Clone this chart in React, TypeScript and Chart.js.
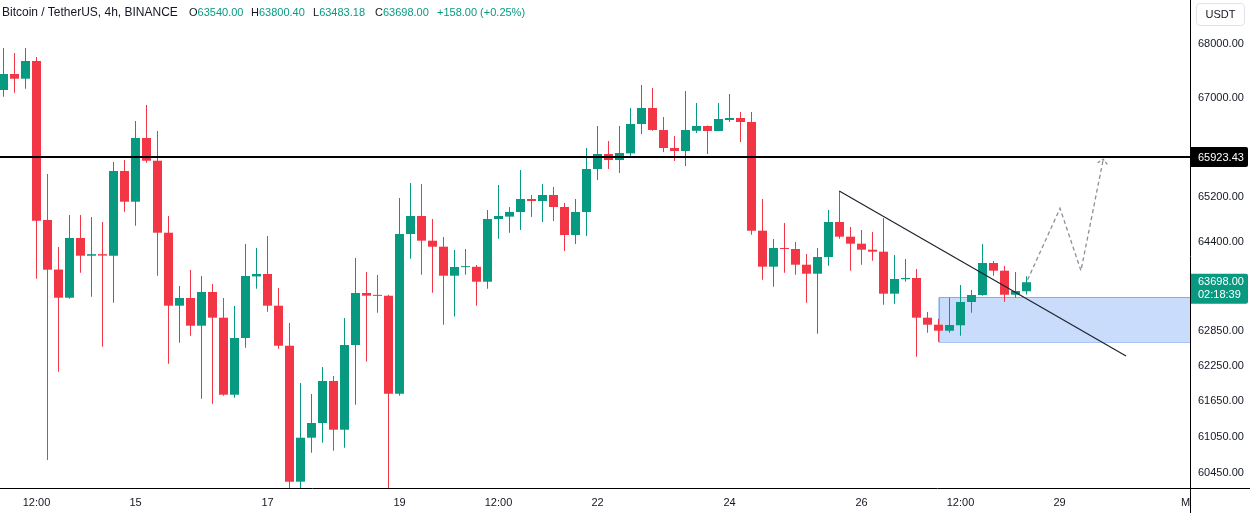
import React, { useEffect, useRef } from 'react';
import { Chart, registerables } from 'chart.js';

Chart.register(...registerables);

// ---- data (BTC/USDT 4h candles) ----
const openPrices = [
  67147, 67443, 67356, 67684, 64795, 63920, 63428, 64476, 64163, 64190,
  64163, 65672, 65121, 66269, 65857, 64569, 63289, 63423, 62943, 63527,
  63081, 61762, 62731, 63800, 63842, 63289, 62598, 60306, 61038, 61285,
  61995, 61172, 62610, 63510, 63475, 63460, 61779, 64546, 64866, 64428,
  64322, 63812, 63962, 63968, 63707, 64812, 64855, 64937, 65169, 65133,
  65241, 65026, 64529, 64937, 65708, 65979, 65870, 65990, 66524, 66817,
  66414, 66087, 66033, 66400, 66487, 66396, 66597, 66634, 66560, 64605,
  63970, 64299, 64281, 64005, 63847, 64140, 64759, 64499, 64375, 64269,
  64234, 63498, 63750, 63772, 63081, 62960, 62856, 62950, 63353, 63475,
  64035, 63900, 63480, 63540,
];
const highPrices = [
  67925, 67832, 67925, 67758, 65618, 64317, 64884, 64884, 64848, 64759,
  65834, 65870, 66579, 66872, 66396, 64866, 63632, 63912, 63807, 63667,
  63423, 63284, 64370, 64299, 64511, 63597, 62989, 61961, 61774, 62234,
  62080, 63076, 64123, 63877, 63824, 63480, 65187, 65456, 65438, 64812,
  64493, 64264, 64281, 64000, 64973, 65420, 65026, 65690, 65241, 65438,
  65384, 65098, 65169, 66087, 66487, 66214, 66487, 66817, 67239, 67184,
  66652, 66305, 67129, 66908, 66495, 66908, 67073, 66743, 66743, 65169,
  64458, 64741, 64405, 64193, 64299, 64973, 65312, 64670, 64617, 64582,
  64830, 64176, 64105, 63929, 63180, 63064, 63428, 63649, 63562, 64370,
  64070, 63982, 63877, 63800.4,
];
const lowPrices = [
  67024, 67098, 67171, 63759, 60666, 62153, 63411, 63865, 63446, 62581,
  63341, 64942, 64693, 65821, 63812, 62290, 62650, 62770, 61695, 61610,
  61745, 61711, 62564, 63585, 63185, 62547, 60150, 60150, 60787, 60954,
  60821, 60871, 61593, 62326, 63168, 60150, 61745, 64110, 63829, 63515,
  62960, 63100, 63829, 63289, 63585, 64463, 64570, 64617, 64848, 64759,
  64777, 64246, 64370, 64511, 65510, 65708, 65636, 65924, 66342, 66400,
  66015, 65852, 65762, 66360, 65979, 66390, 66560, 66196, 64534, 63742,
  63620, 63864, 63829, 63341, 62805, 63988, 64463, 63899, 64005, 64075,
  63306, 63323, 63707, 62410, 62821, 62667, 62821, 62770, 63168, 63460,
  63812, 63358, 63428, 63483.18,
];
const closePrices = [
  67443, 67356, 67684, 64782, 63917, 63428, 64476, 64163, 64190, 64165,
  65672, 65121, 66269, 65857, 64569, 63289, 63423, 62943, 63527, 63081,
  61762, 62731, 63807, 63842, 63289, 62598, 60306, 61038, 61285, 61995,
  61172, 62610, 63510, 63463, 63460, 61779, 64546, 64866, 64428, 64322,
  63812, 63965, 63968, 63707, 64812, 64866, 64937, 65169, 65133, 65241,
  65026, 64529, 64937, 65708, 65979, 65870, 65997, 66524, 66817, 66414,
  66087, 66033, 66414, 66487, 66396, 66615, 66634, 66560, 64605, 63970,
  64299, 64281, 64005, 63847, 64140, 64759, 64499, 64375, 64269, 64234,
  63498, 63754, 63772, 63081, 62960, 62856, 62955, 63353, 63475, 64035,
  63900, 63480, 63545, 63698,
];

const yTickValues = [68000, 67000, 65200, 64400, 62850, 62250, 61650, 61050, 60450];
const xTickSlots = [3, 12, 24, 36, 45, 54, 66, 78, 87, 96, 108];
const xTickLabels = ['12:00', '15', '17', '19', '12:00', '22', '24', '26', '12:00', '29', 'May'];

// drawings (candle slot, price)
const levelPrice = 65923.43;
const trendSlots = [75.98, 102.05];
const trendPrices = [65312, 62422];
const zoneSlots = [85.07, 125];
const zonePrices = [63432, 62657];
const projectionSlots = [93.1, 96.05, 97.95, 99.98];
const projectionPrices = [63740, 65003, 63900, 65883];
const arrowSlots = [99.47, 99.98, 100.35];
const arrowPrices = [65821, 65883, 65792];

const lastPrice = 63698;
const countdown = '02:18:39';
const headerTitle = 'Bitcoin / TetherUS, 4h, BINANCE';
const headerKeys = ['O', 'H', 'L', 'C'];
const headerValues = ['63540.00', '63800.40', '63483.18', '63698.00'];
const headerChange = '+158.00 (+0.25%)';
const currency = 'USDT';

const priceRange = [60185, 68826];
const slotRange = [-0.3182, 107.864];

const UP = '#089981';
const DOWN = '#F23645';
const TEXT = '#131722';
const FONT = "'Liberation Sans', Arial, sans-serif";

const pts = (xs: number[], ys: number[]) => xs.map((x, k) => ({ x, y: ys[k] }));

const overlayPlugin = {
  id: 'overlay',
  afterDraw(chart: any) {
    const { ctx, chartArea } = chart;
    const y = chart.scales.y;
    const W = chart.width;
    const H = chart.height;
    const r = chartArea.right;
    ctx.save();
    ctx.fillStyle = '#ffffff';
    ctx.fillRect(r + 1, chartArea.bottom, W - r, H - chartArea.bottom);
    ctx.strokeStyle = '#000000';
    ctx.lineWidth = 1;
    ctx.beginPath();
    ctx.moveTo(0, chartArea.bottom - 0.5);
    ctx.lineTo(W, chartArea.bottom - 0.5);
    ctx.moveTo(r + 0.5, 0);
    ctx.lineTo(r + 0.5, H);
    ctx.stroke();

    ctx.font = `11px ${FONT}`;
    ctx.textAlign = 'left';
    ctx.textBaseline = 'middle';
    const ly = y.getPixelForValue(levelPrice);
    ctx.fillStyle = '#000000';
    ctx.beginPath();
    ctx.roundRect(r + 1, ly - 10, 57, 20, [0, 2, 2, 0]);
    ctx.fill();
    ctx.fillStyle = '#ffffff';
    ctx.fillText(levelPrice.toFixed(2), r + 8, ly + 0.5);

    const py = y.getPixelForValue(lastPrice);
    ctx.fillStyle = UP;
    ctx.beginPath();
    ctx.roundRect(r + 1, py - 8.5, 57, 30, [0, 2, 2, 0]);
    ctx.fill();
    ctx.fillStyle = '#ffffff';
    ctx.fillText(lastPrice.toFixed(2), r + 8, py);
    ctx.fillText(countdown, r + 8, py + 13);
    ctx.restore();
  },
};

export default function App() {
  const canvasRef = useRef<HTMLCanvasElement | null>(null);

  useEffect(() => {
    document.body.style.margin = '0';
    Chart.defaults.font.family = FONT;
    const idx = openPrices.map((_, i) => i);
    const colors = idx.map((i) => (closePrices[i] >= openPrices[i] ? UP : DOWN));
    const zoneEdge = '#84aaf2';
    const chart = new Chart(canvasRef.current as HTMLCanvasElement, {
      type: 'bar',
      data: {
        datasets: [
          {
            type: 'line', label: 'level',
            data: pts([-5, 130], [levelPrice, levelPrice]),
            borderColor: '#000000', borderWidth: 2, pointRadius: 0, order: 1,
          },
          {
            type: 'line', label: 'trend',
            data: pts(trendSlots, trendPrices),
            borderColor: '#1e222d', borderWidth: 1.2, pointRadius: 0, order: 1,
          },
          {
            type: 'line', label: 'projection',
            data: pts(projectionSlots, projectionPrices),
            borderColor: '#8c8f98', borderWidth: 1.3, borderDash: [4, 3], pointRadius: 0, order: 1,
          },
          {
            type: 'line', label: 'arrow',
            data: pts(arrowSlots, arrowPrices),
            borderColor: '#8c8f98', borderWidth: 1.3, borderDash: [3, 2], pointRadius: 0, order: 1,
          },
          {
            type: 'bar', label: 'bodies',
            data: idx.map((i) => ({ x: i, y: [openPrices[i], closePrices[i]] })) as any,
            backgroundColor: colors, borderWidth: 0, grouped: false,
            categoryPercentage: 1, barPercentage: 1, maxBarThickness: 9,
            minBarLength: 1, inflateAmount: 0, order: 3,
          } as any,
          {
            type: 'bar', label: 'wicks',
            data: idx.map((i) => ({ x: i, y: [lowPrices[i], highPrices[i]] })) as any,
            backgroundColor: colors, borderWidth: 0, grouped: false,
            categoryPercentage: 1, barPercentage: 1, maxBarThickness: 1,
            inflateAmount: 0, order: 4,
          } as any,
          {
            type: 'line', label: 'zoneTop',
            data: pts(zoneSlots, [zonePrices[0], zonePrices[0]]),
            borderColor: zoneEdge, borderWidth: 1, pointRadius: 0,
            fill: '+1', backgroundColor: '#c9dcfb', order: 6,
          },
          {
            type: 'line', label: 'zoneBottom',
            data: pts(zoneSlots, [zonePrices[1], zonePrices[1]]),
            borderColor: zoneEdge, borderWidth: 1, pointRadius: 0, fill: false, order: 6,
          },
          {
            type: 'line', label: 'zoneLeft',
            data: pts([zoneSlots[0], zoneSlots[0]], zonePrices),
            borderColor: zoneEdge, borderWidth: 1, pointRadius: 0, fill: false, order: 5,
          },
        ] as any,
      },
      options: {
        responsive: false,
        animation: false,
        events: [],
        layout: { padding: 0 },
        plugins: { legend: { display: false }, tooltip: { enabled: false } },
        scales: {
          x: {
            type: 'linear',
            min: slotRange[0],
            max: slotRange[1],
            offset: false,
            grid: { display: false, drawTicks: false },
            border: { display: false },
            ticks: {
              autoSkip: false, maxRotation: 0, padding: 7, color: TEXT,
              font: { size: 11, family: FONT },
              callback: (_v: any, i: number) => xTickLabels[i] ?? '',
            },
            afterBuildTicks: (s: any) => { s.ticks = xTickSlots.map((v) => ({ value: v })); },
            afterFit: (s: any) => { s.height = 24; s.paddingLeft = 0; s.paddingRight = 0; },
          },
          y: {
            type: 'logarithmic',
            position: 'right',
            min: priceRange[0],
            max: priceRange[1],
            grid: { display: false, drawTicks: false },
            border: { display: false },
            ticks: {
              autoSkip: false, padding: 8, color: TEXT,
              font: { size: 11, family: FONT },
              callback: (v: any) => Number(v).toFixed(2),
            },
            afterBuildTicks: (s: any) => { s.ticks = yTickValues.map((v) => ({ value: v })); },
            afterFit: (s: any) => { s.width = 60; s.paddingTop = 0; s.paddingBottom = 0; },
          },
        } as any,
      },
      plugins: [overlayPlugin],
    });
    return () => chart.destroy();
  }, []);

  return (
    <div style={{ position: 'fixed', left: 0, top: 0, width: 1250, height: 513, background: '#ffffff', overflow: 'hidden' }}>
      <canvas ref={canvasRef} width={1250} height={513} style={{ display: 'block', width: 1250, height: 513 }} />
      <div style={{ position: 'absolute', left: 0, top: 5, fontFamily: FONT, fontSize: 12, lineHeight: '15px', color: TEXT, whiteSpace: 'nowrap' }}>
        <span style={{ position: 'absolute', left: 2 }}>{headerTitle}</span>
        {headerKeys.map((k, i) => (
          <span key={k} style={{ position: 'absolute', left: 189 + 62 * i, fontSize: 11 }}>
            {k}<span style={{ color: UP }}>{headerValues[i]}</span>
          </span>
        ))}
        <span style={{ position: 'absolute', left: 437, fontSize: 11, color: UP }}>{headerChange}</span>
      </div>
      <div style={{ position: 'absolute', left: 1196, top: 3, width: 49, height: 23, border: '1px solid #e0e3eb', borderRadius: 4, boxSizing: 'border-box', fontFamily: FONT, fontSize: 11, lineHeight: '21px', color: TEXT, textAlign: 'center' }}>
        {currency}
      </div>
    </div>
  );
}
